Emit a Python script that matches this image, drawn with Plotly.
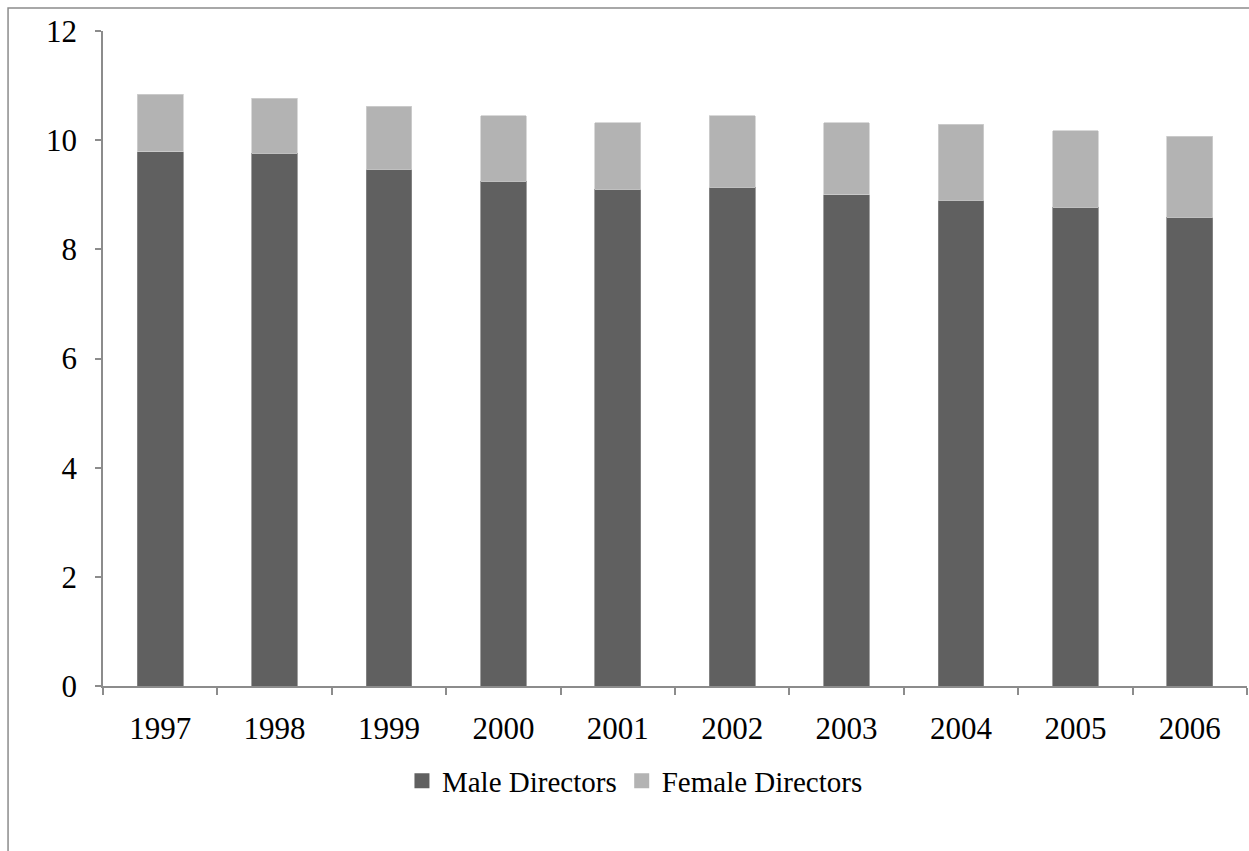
import plotly.graph_objects as go

years = ["1997", "1998", "1999", "2000", "2001", "2002", "2003", "2004", "2005", "2006"]
male = [9.79, 9.76, 9.47, 9.25, 9.10, 9.14, 9.00, 8.90, 8.77, 8.59]
female = [1.05, 1.01, 1.15, 1.20, 1.22, 1.31, 1.32, 1.39, 1.40, 1.48]
y_ticks = [0, 2, 4, 6, 8, 10, 12]

FONT = "Liberation Serif, Times New Roman, serif"
MALE_C = "#606060"
FEMALE_C = "#b3b3b3"

fig = go.Figure()
fig.add_trace(go.Bar(x=years, y=male, name="Male Directors", showlegend=False,
                     legendgroup="m",
                     marker=dict(color=MALE_C, line=dict(color="#8a8a8a", width=0.8))))
fig.add_trace(go.Bar(x=years, y=female, name="Female Directors", showlegend=False,
                     legendgroup="f",
                     marker=dict(color=FEMALE_C, line=dict(color="#d0d0d0", width=0.8))))
# legend keys (square swatches)
fig.add_trace(go.Scatter(x=[None], y=[None], mode="markers", name="Male Directors",
                         legendgroup="m",
                         marker=dict(symbol="square", size=15, color=MALE_C)))
fig.add_trace(go.Scatter(x=[None], y=[None], mode="markers", name="Female Directors",
                         legendgroup="f",
                         marker=dict(symbol="square", size=15, color=FEMALE_C)))

fig.update_layout(
    barmode="stack",
    bargap=0.6,
    width=1249, height=851,
    margin=dict(l=103, r=2, t=31, b=165),
    paper_bgcolor="white", plot_bgcolor="white",
    font=dict(family=FONT, size=31, color="black"),
    showlegend=True,
    legend=dict(orientation="h", x=0.465, xanchor="center", y=-0.145, yanchor="middle",
                traceorder="normal",
                font=dict(family=FONT, size=29), itemwidth=30, tracegroupgap=0),
    xaxis=dict(type="category", showline=True, linecolor="#8c8c8c", linewidth=1.5,
               ticks="outside", tickson="boundaries", ticklen=7, tickcolor="#8c8c8c",
               tickwidth=1.5, showgrid=False, ticklabelstandoff=14,
               tickfont=dict(family=FONT, size=31)),
    yaxis=dict(range=[0, 12], tickvals=y_ticks, showline=True, linecolor="#8c8c8c",
               linewidth=1.5, ticks="outside", ticklen=6, tickcolor="#8c8c8c", tickwidth=1.5,
               showgrid=False, zeroline=False, ticklabelstandoff=12,
               tickfont=dict(family=FONT, size=31)),
    shapes=[dict(type="rect", xref="paper", yref="paper",
                 x0=-0.083, x1=1.05, y0=-0.35, y1=1.035,
                 line=dict(color="#8c8c8c", width=1.5), fillcolor="rgba(0,0,0,0)",
                 layer="below")],
)

fig.write_html("out.html")
